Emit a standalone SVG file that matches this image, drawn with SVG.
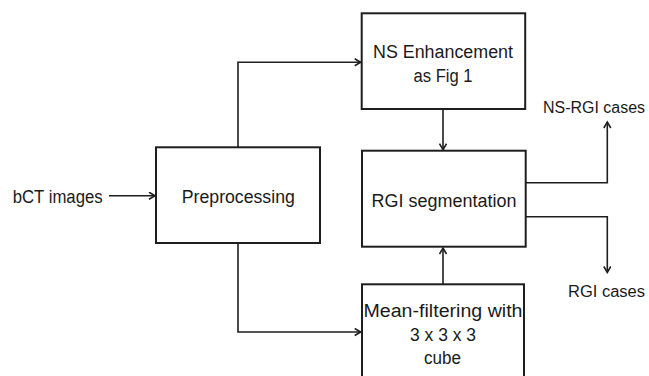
<svg xmlns="http://www.w3.org/2000/svg" width="649" height="376" viewBox="0 0 649 376">
<defs>
<style>
.box{fill:#fff;stroke:#1e1e1e;stroke-width:2}
.ln{fill:none;stroke:#1e1e1e;stroke-width:1.6}
.t{font-family:"Liberation Sans",Arial,sans-serif;font-size:18px;fill:#1a1a1a;text-anchor:middle}
.l{font-family:"Liberation Sans",Arial,sans-serif;font-size:18px;fill:#1a1a1a}
.r{font-family:"Liberation Sans",Arial,sans-serif;font-size:16px;fill:#1a1a1a}
</style>
<marker id="arr" markerUnits="userSpaceOnUse" markerWidth="10" markerHeight="10" refX="7" refY="4" orient="auto">
<path d="M1,0.5 L7,4 L1,7.5" fill="none" stroke="#1e1e1e" stroke-width="1.6"/>
</marker>
</defs>
<rect width="649" height="376" fill="#fff"/>
<g id="connectors">
<line class="ln" x1="109" y1="195.7" x2="155" y2="195.7" marker-end="url(#arr)"/>
<polyline class="ln" points="238,147.3 238,62.3 360.7,62.3" marker-end="url(#arr)"/>
<polyline class="ln" points="238,243 238,332 360.7,332" marker-end="url(#arr)"/>
<line class="ln" x1="443" y1="109" x2="443" y2="149.7" marker-end="url(#arr)"/>
<line class="ln" x1="443" y1="284" x2="443" y2="248" marker-end="url(#arr)"/>
<polyline class="ln" points="525.5,182.7 607.3,182.7 607.3,122" marker-end="url(#arr)"/>
<polyline class="ln" points="525.5,216.7 607.3,216.7 607.3,272.5" marker-end="url(#arr)"/>
</g>
<g id="bct">
<text class="l" x="12.7" y="203" textLength="90" lengthAdjust="spacingAndGlyphs">bCT images</text>
</g>
<g id="preprocessing">
<rect class="box" x="156" y="147.3" width="164" height="95.7"/>
<text class="t" x="238.3" y="203.3" textLength="113" lengthAdjust="spacingAndGlyphs">Preprocessing</text>
</g>
<g id="ns-enhancement">
<rect class="box" x="361.7" y="13.3" width="163.5" height="95.7"/>
<text class="t" x="443" y="58.3" textLength="140" lengthAdjust="spacingAndGlyphs">NS Enhancement</text>
<text class="t" x="443" y="81.7" textLength="59" lengthAdjust="spacingAndGlyphs">as Fig 1</text>
</g>
<g id="rgi-segmentation">
<rect class="box" x="362" y="150.7" width="163.7" height="96"/>
<text class="t" x="444" y="207.3" textLength="145" lengthAdjust="spacingAndGlyphs">RGI segmentation</text>
</g>
<g id="mean-filtering">
<rect class="box" x="362" y="284.3" width="162" height="100"/>
<text class="t" x="443" y="316.7" textLength="159" lengthAdjust="spacingAndGlyphs">Mean-filtering with</text>
<text class="t" x="443" y="340.7" textLength="66" lengthAdjust="spacingAndGlyphs">3 x 3 x 3</text>
<text class="t" x="442.5" y="364.3" textLength="37" lengthAdjust="spacingAndGlyphs">cube</text>
</g>
<g id="ns-rgi-cases">
<text class="r" x="543" y="113.3" textLength="102" lengthAdjust="spacingAndGlyphs">NS-RGI cases</text>
</g>
<g id="rgi-cases">
<text class="r" x="568" y="297.3" textLength="77" lengthAdjust="spacingAndGlyphs">RGI cases</text>
</g>
</svg>
